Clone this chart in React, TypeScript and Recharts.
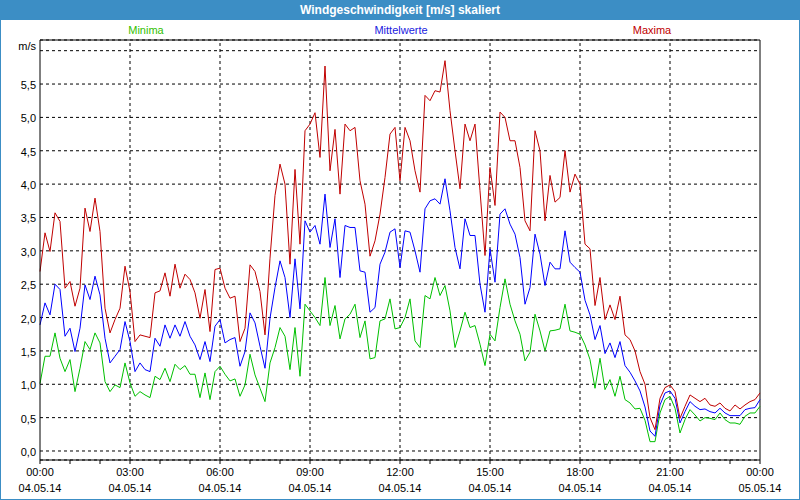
import { LineChart, Line, XAxis, YAxis, CartesianGrid, ReferenceLine } from "recharts";

// 10-minute values, 04.05.14 00:00 .. 05.05.14 00:00
const maxima = [
  2.69, 3.27, 2.99, 3.57, 3.44, 2.44, 2.54, 2.17, 2.44, 3.64, 3.29, 3.79, 3.29, 2.14, 1.77, 1.97, 2.14, 2.77, 2.39, 1.64,
  1.74, 1.72, 1.7, 2.37, 2.4, 2.67, 2.32, 2.8, 2.44, 2.65, 2.57, 2.37, 1.99, 2.42, 1.79, 2.72, 2.74, 2.44, 2.29, 2.32,
  1.64, 1.84, 2.79, 2.69, 2.39, 1.74, 2.89, 3.83, 4.3, 4.0, 2.8, 4.22, 3.1, 4.8, 4.9, 5.07, 4.4, 5.77, 4.2, 4.82,
  3.85, 4.9, 4.8, 4.85, 4.05, 3.7, 2.92, 3.15, 3.55, 4.1, 4.75, 4.85, 4.05, 4.85, 4.65, 4.2, 3.88, 5.33, 5.25, 5.4,
  5.38, 5.85, 5.1, 4.5, 3.93, 4.9, 4.65, 4.9, 3.9, 2.93, 4.25, 3.68, 5.08, 5.0, 4.65, 4.65, 4.25, 3.45, 3.3, 4.8,
  4.5, 3.45, 4.13, 3.73, 3.8, 4.5, 3.88, 4.15, 4.0, 3.1, 3.03, 2.18, 2.6, 1.97, 2.19, 1.97, 2.32, 1.74, 1.67, 1.5,
  1.19, 1.0, 0.5, 0.32, 0.79, 0.95, 0.99, 0.89, 0.49, 0.67, 0.84, 0.79, 0.74, 0.79, 0.69, 0.67, 0.72, 0.64, 0.6, 0.69,
  0.63, 0.69, 0.74, 0.77, 0.87,
];

const mittelwerte = [
  1.89, 2.22, 2.04, 2.5, 2.42, 1.72, 1.84, 1.49, 1.84, 2.49, 2.27, 2.62, 2.34, 1.69, 1.32, 1.42, 1.52, 1.94, 1.64, 1.19,
  1.32, 1.22, 1.19, 1.69, 1.57, 1.89, 1.69, 1.89, 1.72, 1.94, 1.72, 1.59, 1.37, 1.64, 1.34, 1.87, 1.97, 1.62, 1.67, 1.7,
  1.27, 1.49, 2.07, 1.92, 1.57, 1.24, 1.99, 2.45, 2.85, 2.6, 2.0, 2.88, 2.13, 3.45, 3.28, 3.38, 3.1, 3.85, 3.05, 3.48,
  2.6, 3.38, 3.35, 3.35, 2.7, 2.68, 2.08, 2.15, 2.8, 2.98, 3.28, 3.33, 2.75, 3.3, 3.28, 3.0, 2.68, 3.63, 3.75, 3.78,
  3.7, 4.08, 3.6, 3.05, 2.73, 3.48, 3.23, 3.23, 2.5, 2.08, 3.03, 2.53, 3.55, 3.63, 3.4, 3.25, 2.9, 2.2, 2.45, 3.25,
  2.95, 2.48, 2.83, 2.73, 2.73, 3.3, 2.83, 2.75, 2.68, 2.26, 2.04, 1.67, 1.88, 1.46, 1.62, 1.4, 1.64, 1.28, 1.18, 1.05,
  0.9, 0.66, 0.3, 0.22, 0.69, 0.87, 0.9, 0.79, 0.42, 0.59, 0.74, 0.67, 0.62, 0.63, 0.59, 0.57, 0.64, 0.57, 0.53, 0.53,
  0.53, 0.62, 0.64, 0.65, 0.77,
];

const minima = [
  1.01, 1.42, 1.42, 1.77, 1.39, 1.19, 1.37, 0.89, 1.24, 1.64, 1.52, 1.77, 1.62, 1.04, 0.89, 0.99, 0.95, 1.32, 1.02, 0.82,
  0.89, 0.84, 0.8, 1.12, 1.07, 1.24, 1.04, 1.3, 1.22, 1.28, 1.15, 1.15, 0.8, 1.17, 0.77, 1.19, 1.27, 1.15, 1.05, 1.08,
  0.82, 0.99, 1.45, 1.14, 0.94, 0.74, 1.32, 1.55, 1.85, 1.72, 1.22, 1.85, 1.12, 2.2, 2.1, 2.0, 1.88, 2.6, 1.88, 2.18,
  1.68, 1.98, 2.05, 2.2, 1.7, 1.95, 1.38, 1.4, 1.95, 1.98, 2.28, 1.83, 1.85, 2.0, 2.28, 1.65, 1.55, 2.33, 2.28, 2.6,
  2.33, 2.48, 2.1, 1.55, 1.8, 2.08, 1.85, 1.88, 1.6, 1.28, 1.75, 1.65, 2.15, 2.58, 2.2, 1.95, 1.75, 1.35, 1.48, 2.05,
  1.8, 1.5, 1.8, 1.81, 1.83, 2.2, 1.8, 1.78, 1.75, 1.59, 1.37, 0.94, 1.39, 0.92, 1.07, 0.82, 1.12, 0.77, 0.72, 0.63,
  0.64, 0.46, 0.14, 0.14, 0.57, 0.77, 0.82, 0.64, 0.27, 0.47, 0.62, 0.54, 0.45, 0.5, 0.49, 0.47, 0.57, 0.47, 0.42, 0.42,
  0.4, 0.52, 0.57, 0.57, 0.67,
];

const hourTicks = Array.from({ length: 25 }, (_, h) => h * 60);
const gridHours = [180, 360, 540, 720, 900, 1080, 1260];
const timeLabels = ["00:00", "03:00", "06:00", "09:00", "12:00", "15:00", "18:00", "21:00", "00:00"];
const dateLabels = ["04.05.14", "04.05.14", "04.05.14", "04.05.14", "04.05.14", "04.05.14", "04.05.14", "04.05.14", "05.05.14"];
const valueTicks = [0, 0.5, 1, 1.5, 2, 2.5, 3, 3.5, 4, 4.5, 5, 5.5, 6];
const yMin = -0.135;
const yMax = 6.16;

const data = maxima.map((v, i) => ({
  t: i * 10,
  Maxima: v,
  Mittelwerte: mittelwerte[i],
  Minima: minima[i],
}));

const FONT = "'Liberation Sans', Arial, sans-serif";

function TimeTick({ x, y, payload }: any) {
  const m = payload.value as number;
  if (m % 180 !== 0) return <g />;
  const k = m / 180;
  return (
    <g>
      <text x={x} y={y + 10} textAnchor="middle" fontSize={11} fill="#000" fontFamily={FONT}>
        {timeLabels[k]}
      </text>
      <text x={x} y={y + 26} textAnchor="middle" fontSize={11} fill="#000" fontFamily={FONT}>
        {dateLabels[k]}
      </text>
    </g>
  );
}

function ValueTick({ y, payload }: any) {
  const v = payload.value as number;
  const label = v === 6 ? "m/s" : v.toFixed(1).replace(".", ",");
  return (
    <text x={36} y={v === 6 ? y - 1 : y + 5} textAnchor="end" fontSize={11} fill="#000" fontFamily={FONT}>
      {label}
    </text>
  );
}

export default function App() {
  return (
    <div style={{ position: "fixed", left: 0, top: 0, width: 800, height: 500, background: "#fff", fontFamily: FONT }}>
      <LineChart width={800} height={500} data={data} margin={{ top: 40, right: 40, left: 0, bottom: 0 }}>
        <CartesianGrid vertical={false} stroke="#000" strokeDasharray="3 3" />
        <XAxis
          dataKey="t"
          type="number"
          domain={[0, 1440]}
          ticks={hourTicks}
          interval={0}
          height={40}
          tickSize={4}
          axisLine={{ stroke: "#000" }}
          tickLine={{ stroke: "#000" }}
          tick={<TimeTick />}
        />
        <YAxis
          type="number"
          domain={[yMin, yMax]}
          ticks={valueTicks}
          interval={0}
          width={40}
          allowDataOverflow
          axisLine={{ stroke: "#000" }}
          tickLine={false}
          tick={<ValueTick />}
        />
        {gridHours.map((h) => (
          <ReferenceLine key={h} x={h} stroke="#000" strokeDasharray="3 3" />
        ))}
        <ReferenceLine x={1440} stroke="#000" />
        <ReferenceLine y={yMax} stroke="#000" />
        <Line type="linear" dataKey="Minima" stroke="#00c000" strokeWidth={1} dot={false} isAnimationActive={false} />
        <Line type="linear" dataKey="Mittelwerte" stroke="#0000ff" strokeWidth={1} dot={false} isAnimationActive={false} />
        <Line type="linear" dataKey="Maxima" stroke="#c00000" strokeWidth={1} dot={false} isAnimationActive={false} />
      </LineChart>

      <div
        style={{
          position: "absolute", left: 0, top: 0, width: 800, height: 20, background: "#3c8ec5",
          color: "#fff", fontWeight: "bold", fontSize: 12, lineHeight: "20px", textAlign: "center",
        }}
      >
        Windgeschwindigkeit [m/s] skaliert
      </div>
      <div style={{ position: "absolute", left: 0, top: 0, width: 800, height: 500, boxSizing: "border-box", border: "1px solid #3c8ec5" }} />
      <div style={{ position: "absolute", left: 96, top: 24, width: 100, textAlign: "center", fontSize: 11, color: "#33c000" }}>Minima</div>
      <div style={{ position: "absolute", left: 351, top: 24, width: 100, textAlign: "center", fontSize: 11, color: "#2020e0" }}>Mittelwerte</div>
      <div style={{ position: "absolute", left: 602, top: 24, width: 100, textAlign: "center", fontSize: 11, color: "#c00000" }}>Maxima</div>
    </div>
  );
}
